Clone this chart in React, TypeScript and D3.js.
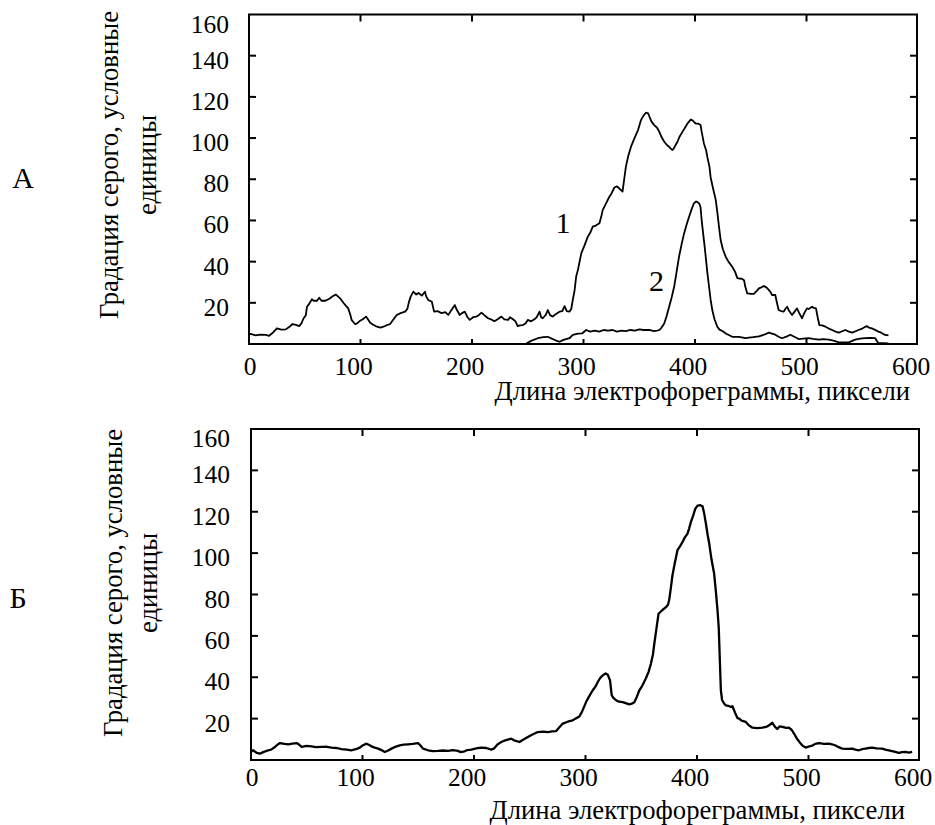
import React from "react";
import * as d3 from "d3";

// ---------- data ----------
const xTickValues = [0, 100, 200, 300, 400, 500, 600];
const yTickValues = [20, 40, 60, 80, 100, 120, 140, 160];
const innerXTicks = [100, 200, 300, 400, 500];
const innerYTicks = [20, 40, 60, 80, 100, 120, 140];

const yAxisLine1 = "Градация серого, условные";
const yAxisLine2 = "единицы";
const xAxisTitle = "Длина электрофореграммы, пиксели";
const panelLetters = ["А", "Б"];
const curveLabels = ["1", "2"];

// Panel A, curve 1
const seriesA1: [number, number][] = [
  [0, 4.5], [1.4, 4.9], [6, 4.2], [10, 4.6], [15, 4.4], [18, 4], [20.8, 5.2], [25, 7.6], [29, 7], [33, 7.1],
  [36, 8.2], [39, 9.7], [42, 9.3], [45, 8.7], [47, 10], [49, 12.5], [51, 14], [52, 18.1], [54, 19.5], [56.5, 21.7],
  [58, 21], [61, 21], [63, 22.5], [65, 21], [68.5, 21], [72, 22], [76, 23.5], [78, 24], [80, 23], [82, 22],
  [85, 19.8], [87, 18.5], [89, 17.3], [91, 14], [92, 11.7], [95, 9.7], [97, 10], [99, 11], [102, 12], [105, 13.3],
  [108.7, 10.3], [111, 9.5], [114.7, 8.4], [118, 8], [120.6, 8.4], [123, 9], [126.6, 9.7], [129, 11.5], [132.5, 14.1],
  [136, 15], [140, 15.7], [142, 17], [143.5, 20.5], [145, 23], [147.4, 25.4], [150, 24], [152, 24.8], [155, 23.5],
  [157.8, 25.4], [159, 23], [160.8, 21.4], [164, 20.5], [166, 15.7], [169, 16], [172.7, 15], [176, 15.5], [178.7, 14.1],
  [181, 16], [184.6, 18.9], [186, 17], [189, 14.1], [191, 15], [193.5, 15.7], [196, 13], [198, 11.7], [201, 13],
  [204, 13.3], [206, 14], [208.5, 15.2], [211, 14], [214.4, 12.5], [217, 12], [220, 11], [223, 12], [226.4, 13.3],
  [229, 12], [232.4, 11.7], [234, 13], [236.8, 12], [239, 11], [241, 8.7], [243, 9], [245.6, 9.2], [248, 10],
  [250, 11.7], [253, 11], [256, 12], [258, 13], [260.6, 15.7], [262, 13], [263.5, 12.5], [266, 14], [268, 16.5],
  [270, 14], [272.5, 13.3], [275, 14.5], [278.5, 15.7], [281, 16], [283, 18.4], [285, 16], [287.4, 15.7], [289, 17],
  [290.4, 21.4], [292, 26], [293.4, 32.7], [295, 36], [298, 44], [301, 48], [303.8, 52], [306, 54], [308.3, 57],
  [311, 57.5], [314.3, 58.6], [316, 62], [317.2, 65], [320, 68], [323.2, 71.5], [325, 73], [327.7, 76], [330, 76.5],
  [332, 75.6], [335, 74], [336.5, 80], [338, 86], [340, 91], [342.6, 95.8], [345, 99], [347, 101.5], [349, 104],
  [351.5, 108.7], [354, 111], [356, 112.3], [358, 112], [359, 110.6], [361, 108], [363.4, 106.3], [366, 105], [368, 103],
  [370, 100.5], [372.4, 98.2], [375, 96.5], [376.8, 95.8], [378, 95], [379.8, 94.2], [381, 95], [382, 96], [384.3, 98.2],
  [386, 100.5], [388.7, 103], [391, 105], [393.2, 107], [396.2, 109], [398, 108.5], [400.7, 107], [403, 107],
  [405, 106.3], [406, 103], [408, 97.4], [410, 94], [411, 91], [413, 86], [414, 81], [416, 76], [418.6, 70], [420, 64],
  [421.5, 57], [423, 50.5], [425, 46], [427.5, 42.4], [430, 40], [433.4, 37.5], [436, 35], [438, 32], [440, 31.8],
  [442.3, 31.6], [444, 31], [445, 28], [446.8, 24.6], [450, 24.4], [452.8, 24.3], [455, 25.5], [457.3, 27],
  [459.5, 27.5], [461.7, 28.2], [464, 27.5], [466, 26.4], [468, 25], [469, 23.8], [472, 23.8], [473.5, 20], [475, 16.5],
  [477, 16], [479.6, 15.7], [481, 17], [482.6, 18.1], [484.5, 16], [487, 14.1], [489, 15.5], [491.5, 17.3], [493.5, 15],
  [496, 12.5], [498, 15], [500.4, 17.3], [502, 17], [505, 18.1], [506.5, 17.5], [508.5, 17.3], [510, 13], [511.5, 9.2],
  [514, 9], [517, 8.4], [520, 7.5], [523, 6.8], [526, 6], [529, 5.5], [532, 6.2], [534.8, 6.8], [538, 6], [541, 5.5],
  [544, 6.2], [546.6, 6.8], [550, 7.5], [554, 8.7], [556, 8], [558.6, 7.6], [561, 7], [564.5, 6], [567, 5.5],
  [570.5, 4.4], [573.5, 4.2],
];

// Panel A, curve 2
const seriesA2: [number, number][] = [
  [249, 0.3], [253, 1.5], [259, 2.8], [264, 3.3], [268, 3.5], [272, 2.5], [275, 1.8], [278.5, 1.1], [282, 2],
  [287.4, 2.8], [290.4, 4.4], [295, 5], [299, 5.2], [302.4, 6.8], [306, 6], [310, 6.5], [314.3, 6], [318, 6.8],
  [322, 6.5], [326, 6.8], [330, 6], [334, 6.5], [338, 6.3], [342, 6.8], [346, 6.5], [350, 7.1], [354, 6.8], [359, 6.8],
  [363, 6.3], [366, 6.5], [368, 6.8], [370, 8], [372.4, 10], [374.5, 13.5], [376.8, 18.1], [379, 22.5], [381.3, 27.8],
  [383.5, 35], [385.7, 42.4], [388, 48.5], [390.2, 53.7], [392.5, 58], [394.7, 61.8], [397, 65.5], [399, 68.3],
  [401, 69.2], [402, 69], [404, 68], [405, 66.3], [406, 60], [407.3, 53.7], [408.5, 48], [409.6, 42.4], [411, 35],
  [412.6, 27.8], [414, 21.5], [415.5, 16.5], [417.5, 12], [420, 8.4], [422, 7], [424.5, 6.3], [428, 5], [433.4, 3.5],
  [439.4, 3.5], [445.4, 2.9], [448.4, 3.1], [452, 3.3], [457.3, 3.7], [462, 4.5], [466.2, 5.5], [469, 5], [472, 4.5],
  [475, 3.5], [478, 2.8], [482, 3.6], [485.5, 4.5], [489, 3.5], [493, 2.4], [497, 2.6], [502, 2.9], [506, 2.5],
  [511, 2.1], [515, 2.4], [520, 2.1], [525, 1.5], [529, 0.8], [534, 0.8], [538, 0.8], [541, 1.5], [543.7, 2.1],
  [548, 2.6], [552.6, 2.9], [557, 3], [561.6, 2.9], [563, 1.5], [564.5, 0.5], [569, 0.4], [573.5, 0.3],
];

// Panel Б
const seriesB: [number, number][] = [
  [0, 4], [2, 4.7], [5, 3.5], [8, 3.1], [11, 3.8], [15.5, 4.7], [18, 5], [21.5, 6.3], [24, 7.5], [26, 8.2], [30, 7.8],
  [33.4, 7.6], [37, 7.9], [41, 8.2], [43, 7.5], [45.4, 6.3], [50, 6.8], [54.3, 6.6], [58, 6.2], [63.3, 6.3], [68, 6.4],
  [72.3, 6], [77, 5.8], [81.2, 5.3], [86, 5], [90, 4.7], [94, 5.2], [97.6, 6], [100, 7], [103.6, 7.9], [106, 7.2],
  [108, 6.6], [111, 6], [114, 5.5], [117, 4.8], [120, 3.9], [123, 4.6], [126, 5.5], [130, 6.5], [133.4, 7.1], [137, 7.4],
  [141, 7.6], [145, 7.8], [149.8, 8.2], [152, 7], [154.3, 5.5], [158.8, 4.7], [163, 4.3], [167.7, 4.4], [172, 4.6],
  [176.7, 4.4], [181, 4.8], [185.6, 4.4], [188, 3.8], [191.6, 4.2], [194, 4.8], [197.6, 5], [202, 5.6], [206.5, 6],
  [211, 5.8], [215.5, 5], [218, 5.6], [221, 7.5], [224.4, 8.7], [228, 9.5], [233.4, 10.3], [236, 9.5], [240.8, 8.7],
  [244, 9.8], [248.3, 11.1], [252, 12.2], [257.2, 13.5], [262, 13.7], [266.2, 13.5], [270, 13.8], [273.7, 14],
  [276, 15.5], [279.6, 17.6], [284, 18.5], [288.5, 19.2], [291, 20], [294.5, 21], [297, 23.5], [300.5, 28], [303, 30.5],
  [306.5, 33.7], [309, 35.5], [311, 37.7], [313, 39.5], [315.4, 40.9], [318, 41.8], [320, 41.2], [322, 38.5],
  [323.5, 31.3], [325, 30], [327.4, 28.9], [330, 28.2], [333.3, 28], [336, 27.5], [339.3, 26.9], [341.5, 27.2],
  [343.8, 27.9], [346, 30.5], [348.3, 33.7], [351, 36], [354, 39.3], [356.5, 42.5], [358.7, 46.6], [360.5, 51],
  [361.7, 56.2], [363.5, 63], [365.5, 70.7], [369, 72.5], [372.2, 73.9], [374, 75], [375, 77.2], [376.5, 83],
  [378, 89.3], [380, 95], [382.5, 101.4], [385, 103.5], [387, 105.4], [389, 107.5], [391.5, 109.4], [393, 112],
  [394.5, 115], [396.5, 118], [398.4, 121.4], [400.5, 123], [403, 123.2], [405, 122.6], [406.5, 119], [408, 114.2],
  [409.5, 109], [411, 104.5], [413, 97], [415.4, 90], [417, 81], [418.4, 72.3], [419.5, 64], [420, 56.2], [420.5, 48],
  [421.4, 33.7], [422.5, 29], [424.4, 27.2], [425.9, 26.4], [428, 26.2], [430.4, 25.6], [431.8, 26], [434, 23],
  [436.4, 20.2], [437.8, 20], [440, 19], [443.8, 18.4], [446, 17], [449.7, 15.6], [454, 15.4], [458.7, 15.6], [462, 16],
  [464.7, 16.8], [467.6, 18], [470, 16], [472, 15], [474, 16.2], [476.6, 16], [480, 15.5], [482.5, 15.6], [485, 14.5],
  [487, 12.8], [490, 10], [493, 7.9], [495, 6.8], [497.5, 6], [500, 6.5], [503.5, 7], [506, 7.8], [509.4, 8.2],
  [514, 7.8], [518.4, 7.9], [521, 7.6], [524.3, 7], [527, 6.2], [530.3, 5.5], [535, 5.4], [539.3, 5.5], [542, 5],
  [545.2, 4.7], [548, 5.2], [551, 5.5], [554, 5.8], [557, 6], [561, 5.6], [566, 5.5], [569, 5], [572, 4.7], [576, 4.2],
  [581, 3.4], [584, 3.8], [587, 3.9], [590, 3.6], [593, 3.9],
];

// ---------- layout ----------
const FONT = "'Liberation Serif', 'Times New Roman', serif";
const TICK_FS = 25.5;
const TITLE_FS = 26.7;

type PanelCfg = {
  left: number; right: number; top: number; bottom: number;
  xLabelBaseline: number; yLabelEnd: number;
  titleEnd: number; titleBaseline: number;
  yTitle1X: number; yTitle2X: number; yTitleCY: number;
  letterX: number; letterY: number; letter: string;
  series: [number, number][][]; stroke: number;
};

const panels: PanelCfg[] = [
  {
    left: 249, right: 918, top: 14.5, bottom: 344,
    xLabelBaseline: 375, yLabelEnd: 229,
    titleEnd: 910, titleBaseline: 400,
    yTitle1X: 118, yTitle2X: 156, yTitleCY: 165,
    letterX: 23, letterY: 188, letter: panelLetters[0],
    series: [seriesA1, seriesA2], stroke: 1.8,
  },
  {
    left: 251, right: 920, top: 429, bottom: 760,
    xLabelBaseline: 786, yLabelEnd: 230,
    titleEnd: 905, titleBaseline: 819,
    yTitle1X: 122, yTitle2X: 157, yTitleCY: 583,
    letterX: 18, letterY: 608, letter: panelLetters[1],
    series: [seriesB], stroke: 2.3,
  },
];

function Panel({ cfg, idx }: { cfg: PanelCfg; idx: number }) {
  const x = d3.scaleLinear().domain([0, 600]).range([cfg.left, cfg.right]);
  const y = d3.scaleLinear().domain([0, 160]).range([cfg.bottom, cfg.top]);
  const line = d3.line<[number, number]>().x((d) => x(d[0])).y((d) => y(d[1]));
  const tl = 7;
  return (
    <g>
      {cfg.series.map((s, i) => (
        <path key={i} d={line(s) || ""} fill="none" stroke="#000" strokeWidth={cfg.stroke} strokeLinejoin="round" />
      ))}
      <rect x={cfg.left} y={cfg.top} width={cfg.right - cfg.left - 1} height={cfg.bottom - cfg.top}
        fill="none" stroke="#000" strokeWidth={2} />
      {innerXTicks.map((v) => (
        <g key={"xt" + v}>
          <line x1={x(v)} x2={x(v)} y1={cfg.top} y2={cfg.top + tl} stroke="#000" strokeWidth={2} />
          <line x1={x(v)} x2={x(v)} y1={cfg.bottom} y2={cfg.bottom - 5} stroke="#000" strokeWidth={2} />
        </g>
      ))}
      {innerYTicks.map((v) => (
        <g key={"yt" + v}>
          <line x1={cfg.left} x2={cfg.left + tl} y1={y(v)} y2={y(v)} stroke="#000" strokeWidth={2} />
          <line x1={cfg.right - 1} x2={cfg.right - 1 - tl} y1={y(v)} y2={y(v)} stroke="#000" strokeWidth={2} />
        </g>
      ))}
      {xTickValues.map((v) => (
        <text key={"xl" + v} x={x(v) + (v === 0 ? 1 : -7)} y={cfg.xLabelBaseline} textAnchor="middle"
          fontFamily={FONT} fontSize={TICK_FS}>{v}</text>
      ))}
      {yTickValues.map((v) => (
        <text key={"yl" + v} x={cfg.yLabelEnd} y={y(v) + (v === 160 ? 18 : 13)} textAnchor="end"
          fontFamily={FONT} fontSize={TICK_FS}>{v}</text>
      ))}
      <text x={cfg.titleEnd} y={cfg.titleBaseline} textAnchor="end" fontFamily={FONT} fontSize={TITLE_FS}>{xAxisTitle}</text>
      <text transform={`translate(${cfg.yTitle1X},${cfg.yTitleCY}) rotate(-90)`} textAnchor="middle"
        fontFamily={FONT} fontSize={TITLE_FS}>{yAxisLine1}</text>
      <text transform={`translate(${cfg.yTitle2X},${cfg.yTitleCY}) rotate(-90)`} textAnchor="middle"
        fontFamily={FONT} fontSize={TITLE_FS}>{yAxisLine2}</text>
      <text x={cfg.letterX} y={cfg.letterY} textAnchor="middle" fontFamily={FONT} fontSize={30}>{cfg.letter}</text>
      {idx === 0 && (
        <>
          <text x={563} y={233} textAnchor="middle" fontFamily={FONT} fontSize={30}>{curveLabels[0]}</text>
          <text x={656.5} y={291} textAnchor="middle" fontFamily={FONT} fontSize={30}>{curveLabels[1]}</text>
        </>
      )}
    </g>
  );
}

export default function App() {
  return (
    <svg width={935} height={825} viewBox="0 0 935 825"
      style={{ position: "absolute", left: 0, top: 0, background: "#fff" }}>
      <rect x={0} y={0} width={935} height={825} fill="#fff" />
      {panels.map((p, i) => <Panel key={i} cfg={p} idx={i} />)}
    </svg>
  );
}
